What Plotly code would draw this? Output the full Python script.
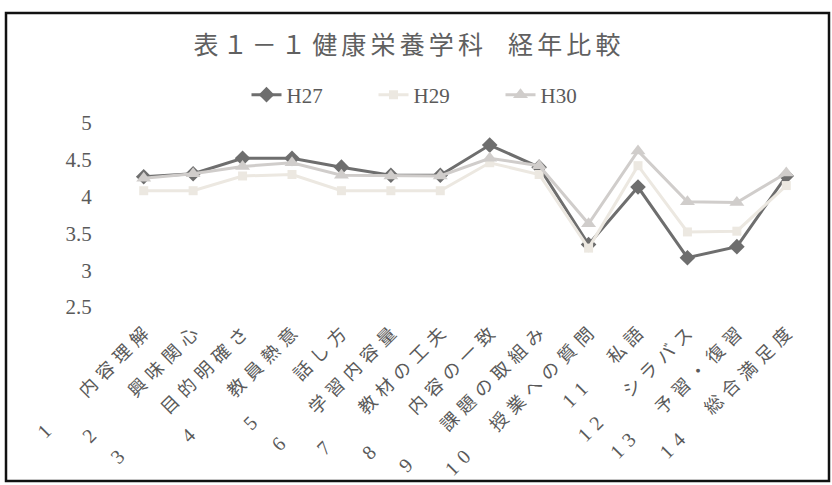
import plotly.graph_objects as go

categories = ["内容理解", "興味関心", "目的明確さ", "教員熱意", "話し方", "学習内容量", "教材の工夫",
              "内容の一致", "課題の取組み", "授業への質問", "私語", "シラバス", "予習・復習", "総合満足度"]
numbers = ["1", "2", "3", "4", "5", "6", "7", "8", "9", "10", "11", "12", "13", "14"]

h27 = [4.27, 4.31, 4.52, 4.52, 4.40, 4.29, 4.29, 4.70, 4.40, 3.35, 4.13, 3.17, 3.32, 4.28]
h29 = [4.08, 4.08, 4.28, 4.30, 4.08, 4.08, 4.08, 4.46, 4.30, 3.30, 4.42, 3.52, 3.53, 4.15]
h30 = [4.25, 4.31, 4.41, 4.46, 4.29, 4.28, 4.28, 4.52, 4.42, 3.63, 4.62, 3.93, 3.92, 4.32]

# style: pixel gap between the number and the item name in each rotated tick label
label_gaps_px = [50, 53, 59, 54, 59, 40, 47, 56, 45, 34, 36, 34, 38, 38]

FS_X = 18
SP = "\u2004"  # three-per-em space used as letter spacing


def spaced(s):
    return SP.join(list(s))


def make_label(num, name, gap):
    full = int(gap // FS_X)
    rem = int(round((gap - full * FS_X) / (FS_X / 3)))
    numtxt = '<span style="font-size:20px">' + spaced(num) + '</span>'
    return numtxt + "\u3000" * full + SP * rem + spaced(name)


labels = [make_label(n, c, g) for n, c, g in zip(numbers, categories, label_gaps_px)]

FONT = "Liberation Serif, 'Noto Sans CJK JP', serif"
TXT = "#5a5a5a"

fig = go.Figure()
fig.add_trace(go.Scatter(x=labels, y=h27, name="H27", mode="lines+markers",
                         line=dict(color="#6e6e6e", width=3),
                         marker=dict(symbol="diamond", size=12, color="#6e6e6e")))
fig.add_trace(go.Scatter(x=labels, y=h29, name="H29", mode="lines+markers",
                         line=dict(color="#ece8e1", width=3),
                         marker=dict(symbol="square", size=9, color="#ece8e1")))
fig.add_trace(go.Scatter(x=labels, y=h30, name="H30", mode="lines+markers",
                         line=dict(color="#d0cdcb", width=3),
                         marker=dict(symbol="triangle-up", size=13, color="#d0cdcb")))

W, H = 832, 485
ml, mr, mt, mb = 119, 21, 123, 178
pw, ph = W - ml - mr, H - mt - mb


def px(x):
    return (x - ml) / pw


def py(y):
    return (H - mb - y) / ph


fig.add_shape(type="rect", xref="paper", yref="paper",
              x0=px(6), x1=px(829), y0=py(481), y1=py(13),
              line=dict(color="#111111", width=2.5))

title_text = "\u2006".join(list("表１－１")) + " " + "\u2006".join(list("健康栄養学科")) + "\u3000" + "\u2006".join(list("経年比較"))

fig.update_layout(
    width=W, height=H,
    margin=dict(l=ml, r=mr, t=mt, b=mb, autoexpand=False),
    paper_bgcolor="white", plot_bgcolor="white",
    font=dict(family=FONT, color=TXT, size=15),
    title=dict(text=title_text, x=407 / W, xanchor="center",
               y=1 - 45 / H, yanchor="middle", font=dict(size=25, color="#606060", family=FONT)),
    legend=dict(orientation="h", x=437 / W, xanchor="center", y=1 - 95 / H, yanchor="middle",
                xref="container", yref="container",
                font=dict(size=21, color=TXT, family=FONT), entrywidth=82, entrywidthmode="pixels",
                tracegroupgap=0),
    showlegend=True,
)
fig.update_xaxes(type="category", tickangle=-45, showgrid=False, showline=False, zeroline=False,
                 ticks="outside", ticklen=8, tickcolor="rgba(0,0,0,0)", automargin=False,
                 tickfont=dict(size=FS_X, color=TXT, family=FONT), range=[-0.5, 13.5])
fig.update_yaxes(range=[2.5, 5], dtick=0.5, showgrid=False, showline=False, zeroline=False,
                 ticks="outside", ticklen=22, tickcolor="rgba(0,0,0,0)", automargin=False,
                 tickfont=dict(size=21, color=TXT, family=FONT))

fig.write_html("out.html")
